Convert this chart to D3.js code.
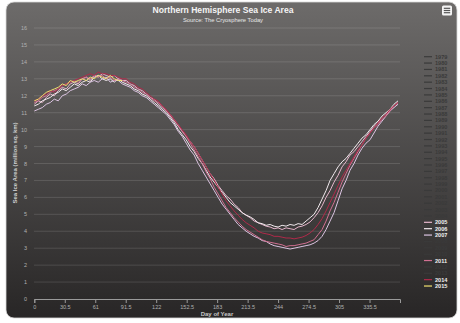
<!DOCTYPE html>
<html><head><meta charset="utf-8">
<script src="https://cdn.jsdelivr.net/npm/d3@7/dist/d3.min.js"></script>
<style>html,body{margin:0;padding:0;background:#fff;}svg{display:block;font-family:"Liberation Sans",Arial,sans-serif;}</style>
</head><body><svg id="c" width="460" height="323"></svg>
<script>
const days = [0,4,8,12,16,20,24,28,32,36,40,44,48,52,56,60,64,68,72,76,80,84,88,92,96,100,104,108,112,116,120,124,128,132,136,140,144,148,152,156,160,164,168,172,176,180,184,188,192,196,200,204,208,212,216,220,224,228,232,236,240,244,248,252,256,260,264,268,272,276,280,284,288,292,296,300,304,308,312,316,320,324,328,332,336,340,344,348,352,356,360,364];
const v2005 = [11.5,11.7,11.6,11.9,12.1,12.0,12.3,12.5,12.4,12.7,12.8,12.7,13.0,13.1,12.9,13.2,13.1,13.3,13.2,13.1,13.2,13.0,12.9,12.9,12.7,12.6,12.4,12.3,12.1,11.9,11.8,11.5,11.3,11.1,10.8,10.5,10.2,9.9,9.6,9.3,9.0,8.6,8.2,7.8,7.4,7.1,6.7,6.4,6.1,5.9,5.6,5.4,5.1,4.95,4.8,4.6,4.5,4.4,4.3,4.25,4.15,4.2,4.1,4.2,4.15,4.1,4.25,4.3,4.4,4.55,4.8,5.1,5.5,6.0,6.4,6.9,7.3,7.8,8.1,8.5,8.7,9.0,9.3,9.6,9.9,10.2,10.4,10.7,10.9,11.1,11.4,11.6];
const v2006 = [11.4,11.5,11.7,11.8,11.9,12.1,12.2,12.4,12.3,12.5,12.7,12.6,12.8,12.9,12.8,13.1,13.2,13.0,12.9,13.0,12.8,13.0,12.8,12.7,12.6,12.4,12.3,12.1,12.0,11.8,11.6,11.4,11.2,11.0,10.7,10.4,10.0,9.7,9.4,9.0,8.7,8.3,8.0,7.6,7.2,6.9,6.6,6.3,6.0,5.7,5.5,5.3,5.1,4.95,4.85,4.7,4.5,4.45,4.35,4.4,4.3,4.25,4.35,4.3,4.4,4.35,4.45,4.4,4.6,4.8,5.0,5.4,5.9,6.4,7.0,7.4,7.8,8.1,8.3,8.6,8.9,9.2,9.5,9.7,10.0,10.3,10.5,10.8,11.0,11.2,11.5,11.7];
const v2007 = [11.1,11.2,11.3,11.5,11.6,11.8,11.7,12.0,12.1,12.3,12.4,12.5,12.7,12.6,12.8,12.9,12.8,13.0,13.1,12.8,12.9,12.9,12.7,12.6,12.5,12.3,12.2,12.0,11.9,11.7,11.5,11.3,11.1,10.9,10.6,10.3,9.9,9.6,9.2,8.8,8.5,8.0,7.6,7.2,6.8,6.4,6.0,5.6,5.3,5.0,4.7,4.4,4.2,4.0,3.85,3.7,3.6,3.45,3.4,3.25,3.15,3.1,3.05,3.0,2.95,3.0,3.05,3.1,3.15,3.2,3.3,3.45,3.7,4.1,4.6,5.1,5.8,6.5,7.0,7.6,8.0,8.5,8.9,9.2,9.4,9.8,10.2,10.5,10.8,11.1,11.3,11.5];
const v2011 = [11.6,11.7,11.9,12.0,12.2,12.3,12.4,12.6,12.7,12.8,12.9,12.8,13.0,13.1,13.0,13.2,13.1,13.2,13.0,13.1,12.9,13.0,12.9,12.8,12.7,12.5,12.4,12.2,12.1,11.9,11.7,11.6,11.4,11.1,10.9,10.6,10.3,9.9,9.6,9.2,8.8,8.4,8.0,7.5,7.1,6.6,6.2,5.8,5.4,5.1,4.8,4.55,4.3,4.1,3.95,3.8,3.65,3.5,3.4,3.35,3.3,3.25,3.2,3.1,3.15,3.15,3.2,3.25,3.3,3.4,3.5,3.8,4.1,4.6,5.2,5.7,6.3,6.9,7.4,7.9,8.3,8.7,9.1,9.5,9.8,10.1,10.3,10.6,10.8,11.1,11.4,11.6];
const v2014 = [11.7,11.8,12.0,12.1,12.3,12.2,12.4,12.6,12.7,12.8,12.9,13.0,13.1,13.2,13.3,13.2,13.4,13.3,13.3,13.2,13.2,13.1,13.0,13.0,12.8,12.7,12.5,12.4,12.2,12.0,11.8,11.7,11.4,11.2,10.9,10.6,10.3,10.0,9.7,9.3,9.0,8.6,8.2,7.8,7.4,7.0,6.6,6.2,5.8,5.5,5.2,4.95,4.7,4.5,4.35,4.2,4.0,3.9,3.85,3.8,3.7,3.7,3.65,3.6,3.6,3.55,3.6,3.65,3.75,3.9,4.1,4.4,4.75,5.2,5.7,6.2,6.7,7.2,7.6,8.0,8.4,8.8,9.1,9.5,9.8,10.1,10.4,10.7,10.9,11.2,11.4,11.6];
const v2015 = [11.7,11.8,12.0,12.2,12.3,12.4,12.5,12.7,12.6,12.9,12.8,12.9,13.0,12.9,13.1,13.0,13.2,13.1,13.0,13.2,13.0,12.9,12.9];

const years = d3.range(1979, 2016).map(String);
const shownYears = ["2005","2006","2007","2011","2014","2015"];
const shownValues = [v2005, v2006, v2007, v2011, v2014, v2015];
const shownColors = ["#e6b6cc","#f2eaee","#dcc4e2","#d27092","#b02a4a","#f2e070"];
const xTicks = [0,30.5,61,91.5,122,152.5,183,213.5,244,274.5,305,335.5];
const yTicks = d3.range(0,17);

const svg = d3.select("#c");
const defs = svg.append("defs");
const g = defs.append("linearGradient").attr("id","bg").attr("x1",0).attr("y1",0).attr("x2",0).attr("y2",1);
g.append("stop").attr("offset","0").attr("stop-color","#6d6b6a");
g.append("stop").attr("offset","1").attr("stop-color","#282626");
svg.append("rect").attr("x",6).attr("y",2).attr("width",451).attr("height",316).attr("rx",8).attr("fill","url(#bg)").attr("stroke","#d8d8d8").attr("stroke-width",0.8);

const x = d3.scaleLinear().domain([0,366]).range([34.3,400]);
const y = d3.scaleLinear().domain([0,16]).range([299,28]);

svg.append("g").selectAll("line").data(yTicks.filter(d=>d>0)).join("line")
  .attr("x1",34).attr("x2",400).attr("y1",d=>y(d)).attr("y2",d=>y(d))
  .attr("stroke","rgba(255,255,255,0.13)").attr("stroke-width",1);

svg.append("g").selectAll("text").data(yTicks).join("text")
  .attr("x",27).attr("y",d=>y(d)+2).attr("text-anchor","end")
  .attr("font-size",5.5).attr("fill","#b0b0b0").text(d=>d);

const xa = svg.append("g").attr("transform","translate(0,299)")
  .call(d3.axisBottom(x).tickValues(xTicks).tickSize(4).tickPadding(2).tickFormat(d=>d));
xa.select(".domain").attr("stroke","#9a9a9a");
xa.selectAll(".tick line").attr("stroke","#9a9a9a");
xa.selectAll(".tick text").attr("font-size",5.5).attr("fill","#b0b0b0").attr("font-family","Liberation Sans, Arial, sans-serif");

svg.append("text").attr("x",223).attr("y",13).attr("text-anchor","middle").attr("font-size",8.6).attr("font-weight","bold").attr("fill","#f4f4f4").text("Northern Hemisphere Sea Ice Area");
svg.append("text").attr("x",223).attr("y",22).attr("text-anchor","middle").attr("font-size",5.8).attr("fill","#e8e8e8").text("Source: The Cryosphere Today");
svg.append("text").attr("x",217).attr("y",316).attr("text-anchor","middle").attr("font-size",6).attr("font-weight","bold").attr("fill","#c8c8c8").text("Day of Year");
svg.append("text").attr("transform","translate(17,163) rotate(-90)").attr("text-anchor","middle").attr("font-size",6).attr("font-weight","bold").attr("fill","#d0d0d0").text("Sea Ice Area (million sq. km)");

const line = d3.line().x((d,i)=>x(days[i])).y(d=>y(d));
const lg = svg.append("g");
shownValues.forEach((vals,k)=>{
  lg.append("path").attr("d",line(vals)).attr("fill","none").attr("stroke",shownColors[k]).attr("stroke-width",1).attr("stroke-linejoin","round");
});

const leg = svg.append("g");
years.forEach((yr,i)=>{
  const yy = 56.7 + i*6.37;
  const k = shownYears.indexOf(yr);
  const col = k>=0 ? shownColors[k] : "#3a3a3a";
  leg.append("line").attr("x1",424).attr("x2",432).attr("y1",yy).attr("y2",yy).attr("stroke",col).attr("stroke-width",1.2);
  leg.append("text").attr("x",435).attr("y",yy+2).attr("font-size",5.6).attr("font-weight","bold")
    .attr("fill",k>=0?"#f0f0f0":"#3a3a3a").text(yr);
});

svg.append("rect").attr("x",442).attr("y",5.5).attr("width",10).attr("height",10).attr("rx",1.5).attr("fill","#f4f4f4");
[8.3,10.5,12.7].forEach(yy=>svg.append("line").attr("x1",443.8).attr("x2",450.2).attr("y1",yy).attr("y2",yy).attr("stroke","#555").attr("stroke-width",1.2));
</script></body></html>
